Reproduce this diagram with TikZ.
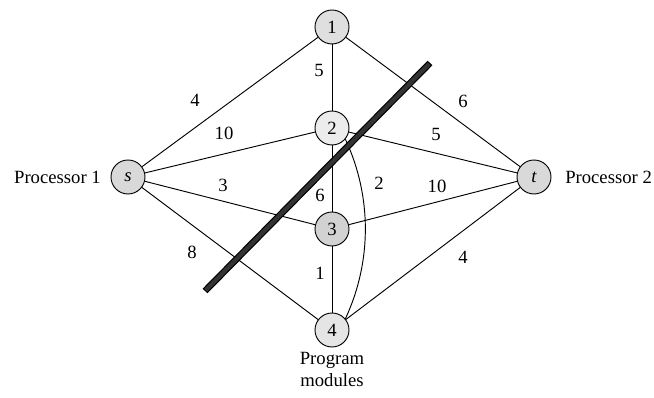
\documentclass[tikz,border=0pt]{standalone}
\usepackage{fontspec}
\setmainfont{Liberation Serif}
\begin{document}
\begin{tikzpicture}[x=0.75pt,y=-0.75pt,
  vertex/.style={circle,draw,line width=0.7pt,minimum size=25.5pt,inner sep=0pt,font=\fontsize{14}{16}\selectfont},
  edge/.style={line width=0.7pt},
  wlabel/.style={font=\fontsize{14}{16}\selectfont,inner sep=1pt},
  side/.style={font=\fontsize{14}{16}\selectfont,inner sep=0pt}]
\useasboundingbox (0,0) rectangle (654,398);
% processors and program modules
\node[vertex,fill=gray!30] (s) at (128,177) {\itshape s};
\node[vertex,fill=gray!30] (t) at (534,177) {\itshape t};
\node[vertex,fill=gray!25] (n1) at (332,27) {1};
\node[vertex,fill=gray!15] (n2) at (332,128) {2};
\node[vertex,fill=gray!35] (n3) at (332,229) {3};
\node[vertex,fill=gray!20] (n4) at (332,330) {4};
\node[side,anchor=east] (p1) at (101,177) {Processor 1};
\node[side,anchor=west] (p2) at (565,177) {Processor 2};
\node[side,align=center,anchor=north,font=\fontsize{14}{16.5}\selectfont] (pm) at (332,352) {Program\\modules};
% weighted edges
\draw[edge] (s) -- (n1);
\draw[edge] (s) -- (n2);
\draw[edge] (s) -- (n3);
\draw[edge] (s) -- (n4);
\draw[edge] (t) -- (n1);
\draw[edge] (t) -- (n2);
\draw[edge] (t) -- (n3);
\draw[edge] (t) -- (n4);
\draw[edge] (n1) -- (n2);
\draw[edge] (n2) -- (n3);
\draw[edge] (n3) -- (n4);
\draw[edge] (n2.-40) to[out=-65,in=65,looseness=0.9] (n4.40);
% edge weights
\node[wlabel] (w1) at (195,100) {4};
\node[wlabel] (w2) at (224,133) {10};
\node[wlabel] (w3) at (223,185) {3};
\node[wlabel] (w4) at (192,252) {8};
\node[wlabel] (w5) at (319,70) {5};
\node[wlabel] (w6) at (320,195) {6};
\node[wlabel] (w7) at (320,273) {1};
\node[wlabel] (w8) at (463,101) {6};
\node[wlabel] (w9) at (436,134) {5};
\node[wlabel] (w10) at (379,183) {2};
\node[wlabel] (w11) at (437,186) {10};
\node[wlabel] (w12) at (463,257) {4};
% the cut
\coordinate (cutA) at (205,291);
\coordinate (cutB) at (430,63);
\draw[line width=5pt,black] (cutA) -- (cutB);
\draw[line width=3.2pt,gray!40!black,shorten <=0.9pt,shorten >=0.9pt] (cutA) -- (cutB);
\end{tikzpicture}
\end{document}
